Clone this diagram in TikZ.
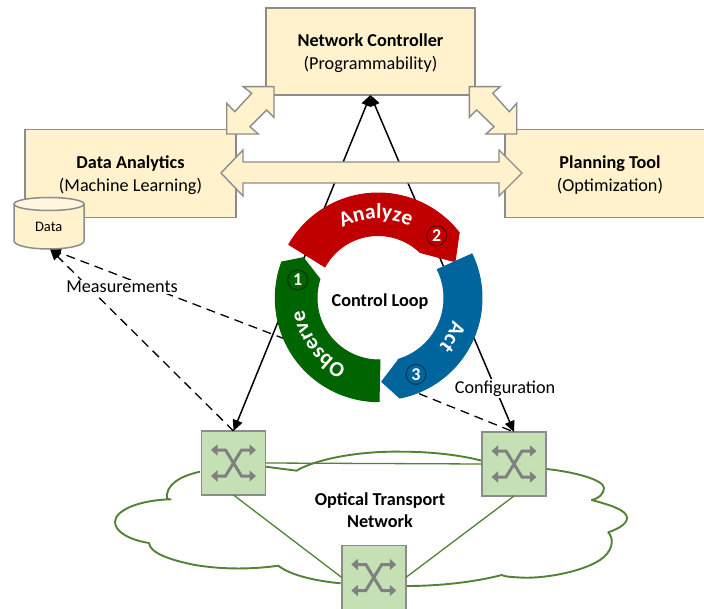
\documentclass[tikz,border=0pt]{standalone}
\usepackage{fontspec}
\setmainfont{Carlito}
\usetikzlibrary{arrows.meta,decorations.text}
\definecolor{boxfill}{HTML}{FFF2CC}
\definecolor{boxedge}{HTML}{8C8C8C}
\definecolor{swfill}{HTML}{C5E0B4}
\definecolor{cloudc}{HTML}{548235}
\definecolor{ringred}{HTML}{C00000}
\definecolor{ringgreen}{HTML}{006400}
\definecolor{ringblue}{HTML}{00659C}
\tikzset{
  panel/.style={draw=boxedge,fill=boxfill,line width=1.5pt,outer sep=0pt,inner sep=0pt,align=center,font=\fontsize{18.2}{23.5}\selectfont},
  paneltext/.style={inner sep=0pt,align=center,font=\fontsize{18.2}{23.5}\selectfont},
  swbox/.style={draw=boxedge,fill=swfill,line width=1.8pt,outer sep=0pt,minimum width=64pt,minimum height=64pt},
  blockarrow/.style={draw=boxedge,fill=boxfill,line width=1.4pt,line join=miter},
  ctrlboth/.style={draw=black,line width=1.5pt,{Triangle[width=10pt,length=11pt]}-{Triangle[width=10pt,length=11pt]}},
  dashline/.style={draw=black,line width=1.3pt,dash pattern=on 9pt off 6pt},
  cloudline/.style={draw=cloudc,line width=1.9pt},
  swlink/.style={draw=cloudc,line width=1.3pt},
  icon/.style={draw=black!50,line width=3pt,{Triangle[width=11pt,length=6.5pt]}-{Triangle[width=11pt,length=6.5pt]}},
  badge/.style={circle,line width=1.2pt,minimum size=20pt,inner sep=0pt,text=white,font=\bfseries\fontsize{18}{18}\selectfont},
  plain/.style={inner sep=0pt,align=center},
  lab/.style={fill=white,inner sep=1.5pt,font=\fontsize{18.2}{20}\selectfont},
}
\newcommand{\swicon}[1]{%
  \draw[icon] ([shift={(-22.5,-13)}]#1.center) -- ([shift={(-8,-13)}]#1.center) -- ([shift={(8,13)}]#1.center) -- ([shift={(22.5,13)}]#1.center);
  \draw[icon] ([shift={(-22.5,13)}]#1.center) -- ([shift={(-8,13)}]#1.center) -- ([shift={(8,-13)}]#1.center) -- ([shift={(22.5,-13)}]#1.center);
}
\newcommand{\ringtext}[6]{% cx cy r start end text
  \path[decorate,decoration={text along path,text align=center,
     text={|\bfseries\fontsize{21.5}{22}\selectfont\color{white}|#6}}]
     plot[domain=#4:#5,samples=50] ({#1+#3*cos(\x)},{#2+#3*sin(\x)});
}
\begin{document}
\begin{tikzpicture}[x=1pt,y=-1pt]
\useasboundingbox (0,0) rectangle (704,609);
\clip (0,0) rectangle (704,609);
\fill[white] (0,0) rectangle (704,609);

% cloud
\draw[cloudline,line join=round] (265.7,466.7) -- (296.7,470.7)
  .. controls (310,462) and (350,451) .. (400,451.7)
  .. controls (430,451.5) and (460,455) .. (481.7,460.7);
\draw[cloudline,line join=round] (546.7,469)
  .. controls (575,472) and (604,480) .. (604,488)
  .. controls (604,494) and (598,499) .. (591.7,500)
  .. controls (610,505) and (627,510) .. (627,518)
  .. controls (627,525) and (615,530) .. (608.3,532.3)
  .. controls (615,540) and (612,552) .. (600,560)
  .. controls (580,573) and (540,579) .. (520,577.5)
  .. controls (512,577) and (506,577) .. (501.7,575)
  .. controls (475,582) and (440,586) .. (406.7,586);
\draw[cloudline,line join=round] (340.7,583.3)
  .. controls (315,581) and (290,575) .. (278.3,565.7)
  .. controls (255,569) and (225,570) .. (195,565)
  .. controls (170,560) and (150,553) .. (149,543)
  .. controls (130,540) and (115,532) .. (115,522)
  .. controls (115,510) and (140,500) .. (170.7,499.3)
  -- (167,499)
  .. controls (165,485) and (180,476) .. (200,471.7);

% switches
\node[swbox] (sa) at (233.5,463) {};
\node[swbox] (sb) at (514,464) {};
\node[swbox] (sc) at (373.8,577.5) {};
\draw[swlink] (sa.east) -- (sb.west);
\draw[swlink] (sa.south) -- (sc.west);
\draw[swlink] (sb.south) -- (sc.east);
\swicon{sa}\swicon{sb}\swicon{sc}
\node[plain,font=\bfseries\fontsize{18.2}{22}\selectfont] (otn) at (380,510) {Optical Transport\\Network};

% panels
\node[panel,minimum width=209pt,minimum height=87pt] (nc) at (370.5,51.5) {};
\node[panel,minimum width=211pt,minimum height=88pt] (da) at (130.5,173.5) {};
\node[panel,minimum width=210pt,minimum height=88pt] (pt) at (610,173.5) {};
\node[paneltext] (nct) at (370.5,53) {\textbf{Network Controller}\\(Programmability)};
\node[paneltext] (dat2) at (130.5,175) {\textbf{Data Analytics}\\(Machine Learning)};
\node[paneltext] (ptt) at (610,175) {\textbf{Planning Tool}\\(Optimization)};

% control lines
\draw[ctrlboth] (nc.south) -- (sa.north);
\draw[ctrlboth] (nc.south) -- (sb.north);

% data store
\coordinate (dtip) at (50,249);
\coordinate (obsend) at (285,339);
\coordinate (actend) at (405,388);
\draw[dashline,-{Triangle[width=10pt,length=11pt]}] (obsend) -- (dtip);
\draw[dashline,-{Triangle[width=10pt,length=11pt]}] (sa.north) -- (dtip);
\draw[dashline] (actend) -- (sb.north);
\path[draw=boxedge,fill=boxfill,line width=1.5pt] (14,204) -- (14,241)
  .. controls (14,245.5) and (30,249) .. (49,249)
  .. controls (68,249) and (84,245.5) .. (84,241) -- (84,204);
\draw[draw=boxedge,fill=boxfill!60,line width=1.5pt] (49,204) ellipse [x radius=35, y radius=6.5];
\node[plain,font=\fontsize{14.5}{16}\selectfont] (dat) at (48.7,227) {Data};
\node[lab] (meas) at (122,287) {Measurements};
\node[lab] (conf) at (505,388.5) {Configuration};

% block arrows
\draw[blockarrow] (221,173) -- (243,150) -- (243,162) -- (499,162) -- (499,150) -- (522,173) -- (499,196) -- (499,183) -- (243,183) -- (243,196) -- cycle;
\draw[blockarrow] (274,86.7) -- (243.3,86.7) -- (251.7,93.3) -- (234.7,111.7) -- (226.7,103.3) -- (226.7,134) -- (258.3,134) -- (250,126.7) -- (266.7,110) -- (274,117.3) -- cycle;
\draw[blockarrow] (469.3,86.7) -- (500,86.7) -- (492.7,93.3) -- (509.3,111.7) -- (516.7,103.3) -- (516.7,134) -- (486,134) -- (494,126.7) -- (476.7,110) -- (469.3,117.3) -- cycle;

% ring
\fill[ringred,draw=ringred,line width=1pt,line join=round] plot[domain=210:322,samples=60] ({378+103*cos(\x)},{296+103*sin(\x)}) -- (455,261.7) -- plot[domain=314:208.7,samples=60] ({378+60.5*cos(\x)},{296+60.5*sin(\x)}) -- cycle;
\fill[ringgreen,draw=ringgreen,line width=1pt,line join=round] plot[domain=200.3:90,samples=60] ({379+103.7*cos(\x)},{298+103.7*sin(\x)}) -- (380,360) -- plot[domain=90:197.7,samples=60] ({379+62*cos(\x)},{298+62*sin(\x)}) -- (303.3,257.7) -- cycle;
\fill[ringblue,draw=ringblue,line width=1pt,line join=round] plot[domain=-25.6:78.8,samples=60] ({380+102*cos(\x)},{298+102*sin(\x)}) -- (381.7,381.7) -- (398.3,360) -- plot[domain=73.5:-26.4,samples=60] ({380+64*cos(\x)},{298+64*sin(\x)}) -- cycle;

\ringtext{378}{296}{77}{210}{327}{Analyze}
\ringtext{379}{298}{76}{85}{201}{Observe}
\ringtext{380}{298}{76}{-30}{86}{Act}

\node[badge,draw=ringgreen!60!black,fill=ringgreen] (n1) at (297.7,280) {1};
\node[badge,draw=ringred!60!black,fill=ringred] (n2) at (436.7,235.7) {2};
\node[badge,draw=ringblue!60!black,fill=ringblue] (n3) at (416,374.3) {3};
\node[plain,font=\bfseries\fontsize{18.2}{20}\selectfont] (cl) at (380,301.5) {Control Loop};
\end{tikzpicture}
\end{document}
